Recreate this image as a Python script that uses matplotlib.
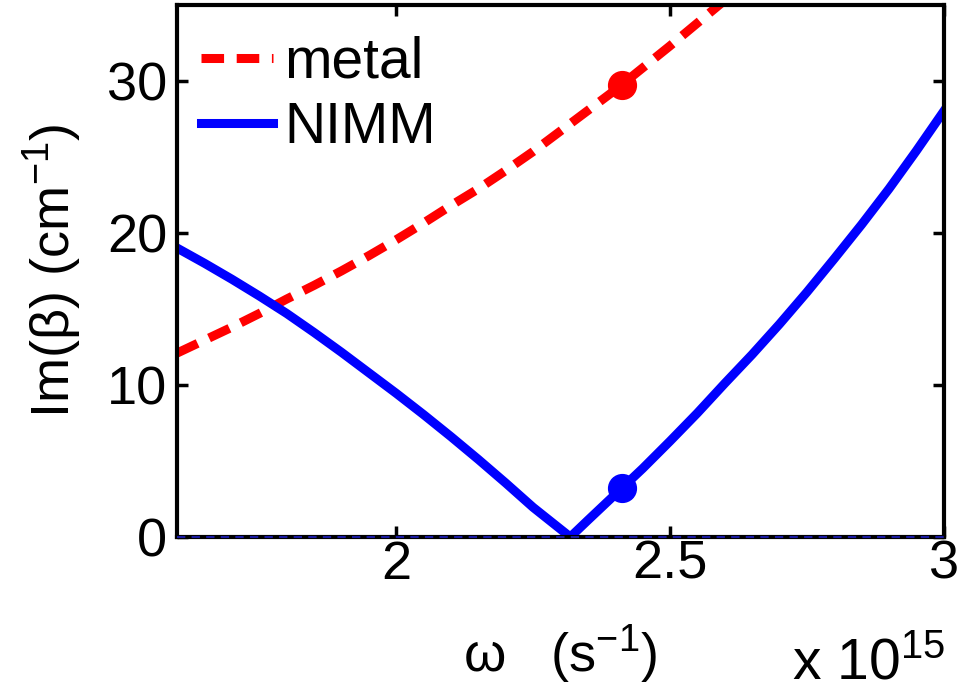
import matplotlib
matplotlib.use("Agg")
import matplotlib.pyplot as plt

# Data (omega in units of 1e15 s^-1, Im(beta) in cm^-1)
metal_w = [1.60, 1.65, 1.70, 1.75, 1.80, 1.85, 1.90, 1.95, 2.00, 2.05, 2.10,
           2.15, 2.20, 2.25, 2.30, 2.35, 2.40, 2.45, 2.50, 2.55, 2.60]
metal_im = [12.1, 12.95, 13.8, 14.7, 15.65, 16.55, 17.5, 18.5, 19.55, 20.65, 21.8,
            22.9, 24.1, 25.35, 26.7, 28.05, 29.4, 30.85, 32.3, 33.8, 35.3]

nimm_w = [1.60, 1.65, 1.70, 1.75, 1.80, 1.85, 1.90, 1.95, 2.00, 2.05, 2.10,
          2.15, 2.20, 2.25, 2.318,
          2.35, 2.40, 2.45, 2.50, 2.55, 2.60, 2.65, 2.70, 2.75, 2.80,
          2.85, 2.90, 2.95, 3.00]
nimm_im = [19.0, 18.0, 16.95, 15.85, 14.7, 13.45, 12.15, 10.8, 9.45, 8.05, 6.6,
           5.1, 3.55, 1.95, 0.0,
           1.1, 2.8, 4.5, 6.3, 8.15, 10.1, 12.0, 14.0, 16.1, 18.3,
           20.55, 22.9, 25.4, 28.0]

zero_w = [1.60, 3.00]
zero_im = [0.0, 0.0]

mark_w = 2.413
mark_metal = 29.7
mark_nimm = 3.2

xticks = [2, 2.5, 3]
xticklabels = ["2", "2.5", "3"]
yticks = [0, 10, 20, 30]

plt.rcParams['font.family'] = ['Liberation Sans', 'DejaVu Sans']
plt.rcParams['mathtext.fontset'] = 'custom'
plt.rcParams['mathtext.rm'] = 'Liberation Sans'
plt.rcParams['mathtext.it'] = 'Liberation Sans'
plt.rcParams['mathtext.default'] = 'regular'

fig = plt.figure(figsize=(9.63, 6.92), dpi=100)
ax = fig.add_axes([0.184, 0.224, 0.796, 0.769])

ax.plot(metal_w, metal_im, color='#ff0000', lw=6.5, linestyle=(0, (2.5, 1.4)),
        label='metal', dash_capstyle='butt')
ax.plot(nimm_w, nimm_im, color='#0000ff', lw=6.5, label='NIMM')
ax.plot(zero_w, zero_im, color='#1a1aa0', lw=1.5, linestyle=(0, (4, 3)),
        zorder=5, clip_on=False)
ax.plot(mark_w, mark_metal, 'o', color='#ff0000', ms=20, zorder=4)
ax.plot(mark_w, mark_nimm, 'o', color='#0000ff', ms=20, zorder=4)

ax.set_xlim(1.6, 3.0)
ax.set_ylim(0, 35)
ax.set_xticks(xticks)
ax.set_xticklabels(xticklabels)
ax.set_yticks(yticks)
ax.tick_params(direction='in', length=8, width=2.5, labelsize=39,
               top=True, right=True)
ax.tick_params(axis='x', pad=2)
ax.tick_params(axis='y', pad=7)
for s in ax.spines.values():
    s.set_linewidth(3)

ax.set_ylabel(r"Im($\beta$) (cm$^{-1}$)", fontsize=39, labelpad=17)
ax.set_xlabel(r"$\omega$   (s$^{-1}$)", fontsize=39, labelpad=24)
fig.text(0.822, 0.02, r"x 10$^{15}$", fontsize=41, ha='left', va='baseline')

ax.legend(loc='upper left', bbox_to_anchor=(-0.013, 1.006), frameon=False,
          fontsize=41, handlelength=1.25, handletextpad=0.2, labelspacing=0.2,
          borderaxespad=0.3, borderpad=0.3)

fig.savefig("out.png", dpi=100)
